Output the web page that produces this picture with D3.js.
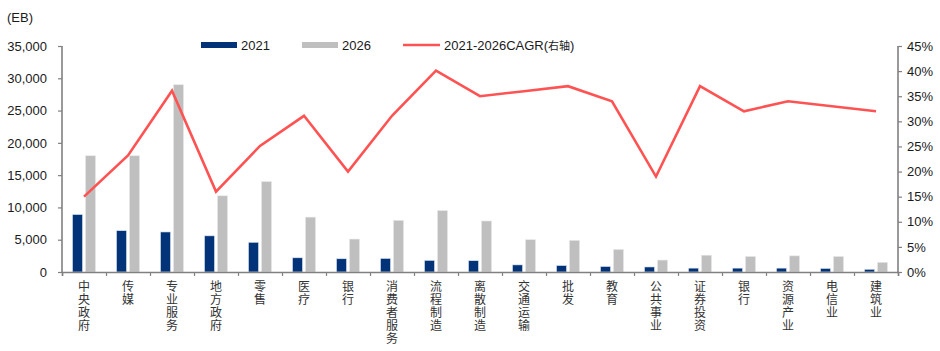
<!DOCTYPE html>
<html>
<head>
<meta charset="utf-8">
<script src="https://cdn.jsdelivr.net/npm/d3@7"></script>
<style>
  body { margin: 0; background: #fff; }
  text { font-family: "Liberation Sans", Arial, sans-serif; }
</style>
</head>
<body>
<div id="chart"></div>
<script>
// categories and values
const categories = ["中央政府", "传媒", "专业服务", "地方政府", "零售", "医疗", "银行", "消费者服务", "流程制造", "离散制造", "交通运输", "批发", "教育", "公共事业", "证券投资", "银行 ", "资源产业", "电信业", "建筑业"];
const v2021 = [8900, 6400, 6200, 5600, 4600, 2200, 2050, 2100, 1800, 1750, 1100, 1000, 850, 780, 600, 600, 600, 550, 420];
const v2026 = [18000, 18000, 29000, 11800, 14000, 8500, 5100, 8000, 9500, 7900, 5000, 4900, 3500, 1850, 2600, 2400, 2500, 2400, 1500];
const cagr = [15, 23.2, 36.1, 16, 25.1, 31.1, 20, 31.1, 40.1, 35, 36, 37, 34, 19, 37, 32, 34, 33, 32];
const leftTicks = [0, 5000, 10000, 15000, 20000, 25000, 30000, 35000];
const rightTicks = [0, 5, 10, 15, 20, 25, 30, 35, 40, 45];

const W = 940, H = 351;
const margin = { top: 46, right: 42, bottom: 79, left: 62 };
const width = W - margin.left - margin.right;
const height = H - margin.top - margin.bottom;

const svg = d3.select("#chart").append("svg")
  .attr("width", W).attr("height", H);

const g = svg.append("g")
  .attr("transform", "translate(" + margin.left + "," + margin.top + ")");

const x = d3.scaleBand().domain(categories).range([0, width]).padding(0);
const x1 = d3.scaleBand().domain(["a", "b"]).range([10.5, 33.5]).paddingInner(0.23);
const y = d3.scaleLinear().domain([0, 35000]).range([height, 0]);
const y2 = d3.scaleLinear().domain([0, 45]).range([height, 0]);

const axisColor = "#808080";

// bars
g.selectAll(".b21").data(categories).enter().append("rect")
  .attr("x", d => x(d) + x1("a"))
  .attr("y", (d, i) => y(v2021[i]))
  .attr("width", x1.bandwidth())
  .attr("height", (d, i) => height - y(v2021[i]))
  .attr("fill", "#023378")
  .attr("stroke", "#dde4ee").attr("stroke-width", 0.6);

g.selectAll(".b26").data(categories).enter().append("rect")
  .attr("x", d => x(d) + x1("b"))
  .attr("y", (d, i) => y(v2026[i]))
  .attr("width", x1.bandwidth())
  .attr("height", (d, i) => height - y(v2026[i]))
  .attr("fill", "#bfbfbf")
  .attr("stroke", "#e8e8e8").attr("stroke-width", 0.6);

// CAGR line
const line = d3.line()
  .x((d, i) => x(categories[i]) + x.bandwidth() / 2)
  .y(d => y2(d));

g.append("path").datum(cagr)
  .attr("d", line)
  .attr("fill", "none")
  .attr("stroke", "#ff5353")
  .attr("stroke-width", 2.6)
  .attr("stroke-linejoin", "miter");

// left axis
const yAxis = g.append("g")
  .call(d3.axisLeft(y).tickValues(leftTicks).tickSize(4).tickPadding(11).tickFormat(d3.format(",")));
// right axis
const yAxis2 = g.append("g")
  .attr("transform", "translate(" + width + ",0)")
  .call(d3.axisRight(y2).tickValues(rightTicks).tickSize(4).tickPadding(5).tickFormat(d => d + "%"));
// bottom axis with ticks at band boundaries
const xEdges = d3.scaleLinear().domain([0, categories.length]).range([0, width]);
const xAxis = g.append("g")
  .attr("transform", "translate(0," + height + ")")
  .call(d3.axisBottom(xEdges).tickValues(d3.range(categories.length + 1)).tickSize(4).tickFormat(""));

[yAxis, yAxis2, xAxis].forEach(ax => {
  ax.select(".domain").attr("stroke", axisColor).attr("stroke-width", 1.6);
  ax.selectAll(".tick line").attr("stroke", axisColor).attr("stroke-width", 1.2);
  ax.selectAll("text").attr("fill", "#1a1a1a")
    .style("font-family", '"Liberation Sans", Arial, sans-serif')
    .style("font-size", "13px");
});
yAxis.select(".domain").attr("d", "M0," + height + "V0");
yAxis2.select(".domain").attr("d", "M0," + height + "V0");

// vertical category labels
g.selectAll(".cat").data(categories).enter().append("text")
  .attr("x", d => x(d) + x.bandwidth() / 2)
  .attr("y", height + 8)
  .attr("writing-mode", "vertical-rl")
  .style("font-family", '"Noto Sans CJK SC", sans-serif')
  .style("font-size", "12px")
  .style("letter-spacing", "1px")
  .attr("fill", "#333")
  .text(d => d.trim());

// unit label
svg.append("text")
  .attr("x", 7).attr("y", 22)
  .style("font-size", "13px")
  .attr("fill", "#1a1a1a")
  .text("(EB)");

// legend
const legend = svg.append("g").attr("transform", "translate(201,45)");
legend.append("rect").attr("x", 0).attr("y", -3).attr("width", 36).attr("height", 6).attr("fill", "#023378");
legend.append("text").attr("x", 40).attr("y", 5).style("font-size", "13px").attr("fill", "#1a1a1a").text("2021");
legend.append("rect").attr("x", 101).attr("y", -3).attr("width", 36).attr("height", 6).attr("fill", "#bfbfbf");
legend.append("text").attr("x", 141).attr("y", 5).style("font-size", "13px").attr("fill", "#1a1a1a").text("2026");
legend.append("line").attr("x1", 202).attr("x2", 239).attr("y1", 0).attr("y2", 0)
  .attr("stroke", "#ff5353").attr("stroke-width", 2.6);
const lt = legend.append("text").attr("x", 243).attr("y", 5).style("font-size", "13px").attr("fill", "#1a1a1a");
lt.append("tspan").text("2021-2026CAGR(");
lt.append("tspan").style("font-family", '"Noto Sans CJK SC", sans-serif').style("font-size", "11px").text("右轴");
lt.append("tspan").text(")");
</script>
</body>
</html>
